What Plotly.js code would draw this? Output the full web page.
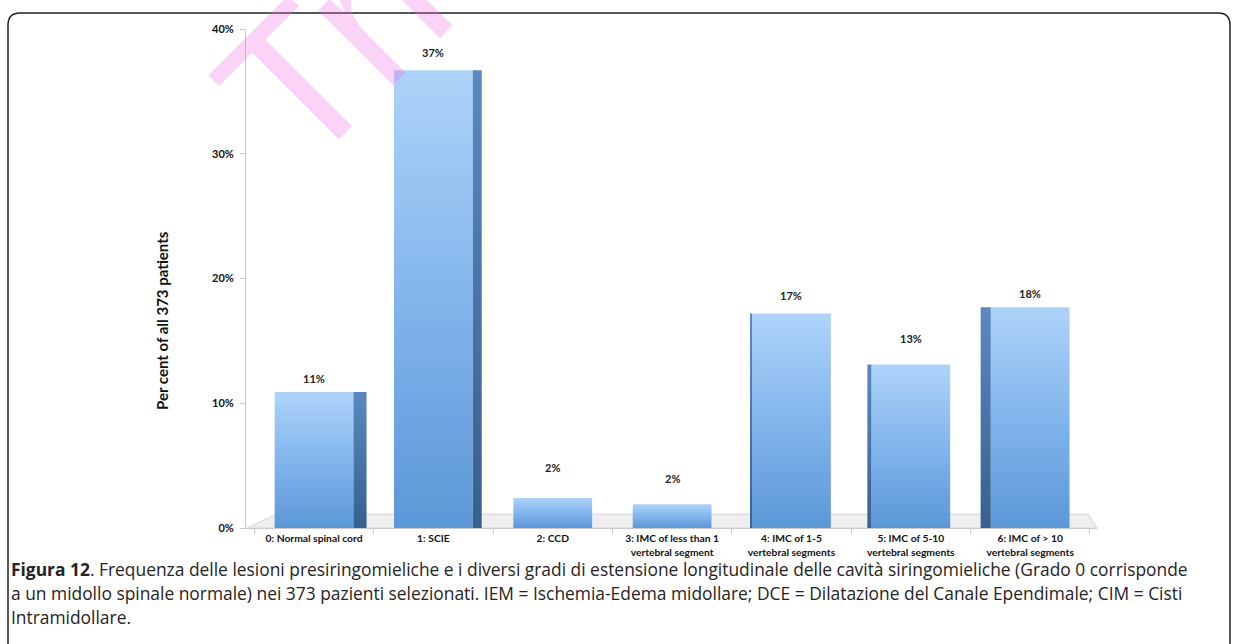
<!DOCTYPE html>
<html>
<head>
<meta charset="utf-8">
<script src="https://cdn.plot.ly/plotly-3.0.1.min.js"></script>
<style>
html,body{margin:0;padding:0;background:#fff;}
#chart{width:1237px;height:644px;}
</style>
</head>
<body>
<div id="chart"></div>
<script>
// ---- data ----
const categories = [
  "0: Normal spinal cord",
  "1: SCIE",
  "2: CCD",
  "3: IMC of less than 1<br>vertebral segment",
  "4: IMC of 1-5<br>vertebral segments",
  "5: IMC of 5-10<br>vertebral segments",
  "6: IMC of > 10<br>vertebral segments"
];
const percentValues = [10.9, 36.7, 2.4, 1.9, 17.2, 13.1, 17.7];
const percentLabels = ["11%", "37%", "2%", "2%", "17%", "13%", "18%"];
const yTickValues = [0, 10, 20, 30, 40];
const yTickLabels = ["0%", "10%", "20%", "30%", "40%"];
const yAxisTitle = "Per cent of all 373 patients";
const captionLines = [
  "<b>Figura 12</b>. Frequenza delle lesioni presiringomieliche e i diversi gradi di estensione longitudinale delle cavità siringomieliche (Grado 0 corrisponde",
  "a un midollo spinale normale) nei 373 pazienti selezionati. IEM = Ischemia-Edema midollare; DCE = Dilatazione del Canale Ependimale; CIM = Cisti",
  "Intramidollare."
];
const watermarkText = "Trial";

// ---- layout geometry (pixels) ----
const W = 1237, H = 644;
const M = {l: 246, r: 140, t: 29, b: 116};
const PW = W - M.l - M.r, PH = H - M.t - M.b;
const xp = px => (px - M.l) / PW;
const yp = py => (H - M.b - py) / PH;

// pseudo-3D styling (style only)
const sideWidths = [0.11, 0.075, 0, 0, 0.017, 0.034, 0.085];
const sideOffsets = sideWidths.map((w, i) => i <= 1 ? 0.33 : -0.33 - w);
const labelShift = [14, 18, 31, 26, 18, 26, 14];

const traces = [
  {
    type: "bar",
    x: categories,
    y: percentValues,
    width: 0.66,
    marker: {color: "#80b3ea", line: {width: 0}},
    hoverinfo: "skip",
    showlegend: false
  },
  {
    type: "bar",
    x: categories,
    y: percentValues,
    width: sideWidths,
    offset: sideOffsets,
    marker: {color: "#4373aa", line: {width: 0}},
    hoverinfo: "skip",
    showlegend: false
  }
];

const annotations = [];
categories.forEach((c, i) => {
  annotations.push({
    x: c, y: percentValues[i], xref: "x", yref: "y",
    text: percentLabels[i], showarrow: false,
    yanchor: "middle", yshift: labelShift[i],
    font: {family: "Liberation Sans Narrow, Lato, sans-serif", size: 11, color: "#222", weight: "bold"}
  });
});
annotations.push({
  xref: "paper", yref: "paper", x: xp(162), y: yp(321),
  text: yAxisTitle, textangle: -90, showarrow: false,
  xanchor: "center", yanchor: "middle",
  font: {family: "Liberation Sans Narrow, Lato, sans-serif", size: 15, color: "#111", weight: "bold"}
});
const capY = [569, 593, 617];
captionLines.forEach((t, i) => {
  annotations.push({
    xref: "paper", yref: "paper", x: xp(9), y: yp(capY[i]),
    text: t, showarrow: false, xanchor: "left", yanchor: "middle",
    font: {family: "Open Sans, sans-serif", size: 17.4, color: "#262324"}
  });
});
annotations.push({
  xref: "paper", yref: "paper", x: xp(387), y: yp(-8),
  text: watermarkText, textangle: -45, showarrow: false,
  xanchor: "center", yanchor: "middle",
  font: {family: "Liberation Sans, Arial, sans-serif", size: 200, color: "rgba(240,110,228,0.30)"}
});

// rounded frame
const fx0 = 8, fy0 = 13, fx1 = 1230, fy1 = 700, rr = 12;
const P = (x, y) => xp(x) + "," + yp(y);
const framePath = "M " + P(fx0, fy1) + " L " + P(fx0, fy0 + rr) +
  " Q " + P(fx0, fy0) + " " + P(fx0 + rr, fy0) +
  " L " + P(fx1 - rr, fy0) +
  " Q " + P(fx1, fy0) + " " + P(fx1, fy0 + rr) +
  " L " + P(fx1, fy1);
// floor plane under the bars
const floorPath = "M " + P(247, 528) + " L " + P(277, 514) + " L " + P(1088, 514) + " L " + P(1097, 528) + " Z";

const layout = {
  width: W, height: H,
  margin: M,
  paper_bgcolor: "#fff", plot_bgcolor: "rgba(0,0,0,0)",
  xaxis: {
    type: "category",
    range: [-0.57, 6.56],
    showline: true, linecolor: "#c9c9c9", linewidth: 1,
    ticks: "outside", tickson: "boundaries", ticklen: 5, tickcolor: "#c9c9c9",
    ticklabelstandoff: 1,
    tickangle: 0,
    tickfont: {family: "Liberation Sans Narrow, Lato, sans-serif", size: 10.3, color: "#111", weight: "bold"},
    showgrid: false, zeroline: false, fixedrange: true
  },
  yaxis: {
    range: [0, 40],
    tickvals: yTickValues, ticktext: yTickLabels,
    showline: true, linecolor: "#c9c9c9", linewidth: 1,
    ticks: "outside", ticklen: 5, tickcolor: "#c9c9c9",
    ticklabelstandoff: 4,
    tickfont: {family: "Liberation Sans Narrow, Lato, sans-serif", size: 11, color: "#111", weight: "bold"},
    showgrid: false, zeroline: false, fixedrange: true
  },
  annotations: annotations,
  shapes: [
    {type: "path", xref: "paper", yref: "paper", path: floorPath, layer: "below",
     line: {color: "#d4d4d4", width: 1}, fillcolor: "#eeeeee"},
    {type: "path", xref: "paper", yref: "paper", path: framePath,
     line: {color: "#222", width: 1.5}, fillcolor: "rgba(0,0,0,0)"}
  ]
};

Plotly.newPlot("chart", traces, layout, {displayModeBar: false, staticPlot: true}).then(gd => {
  // vertical light-to-dark gradient on the bar faces
  const svg = gd.querySelector(".main-svg");
  const ns = "http://www.w3.org/2000/svg";
  let defs = svg.querySelector("defs");
  if (!defs) { defs = document.createElementNS(ns, "defs"); svg.insertBefore(defs, svg.firstChild); }
  const mk = (id, stops) => {
    const g = document.createElementNS(ns, "linearGradient");
    g.setAttribute("id", id);
    g.setAttribute("x1", "0"); g.setAttribute("y1", "0");
    g.setAttribute("x2", "0"); g.setAttribute("y2", "1");
    stops.forEach(([o, c]) => {
      const s = document.createElementNS(ns, "stop");
      s.setAttribute("offset", o); s.setAttribute("stop-color", c);
      g.appendChild(s);
    });
    defs.appendChild(g);
  };
  mk("frontGrad", [["0", "#aed3f9"], ["0.5", "#82b5ec"], ["1", "#5b97d7"]]);
  mk("sideGrad", [["0", "#5a88c0"], ["1", "#36618f"]]);
  const traceGroups = gd.querySelectorAll(".barlayer .trace");
  if (traceGroups[0]) traceGroups[0].querySelectorAll("path").forEach(p => { p.style.fill = "url(#frontGrad)"; });
  if (traceGroups[1]) traceGroups[1].querySelectorAll("path").forEach(p => { p.style.fill = "url(#sideGrad)"; });
});
</script>
</body>
</html>
